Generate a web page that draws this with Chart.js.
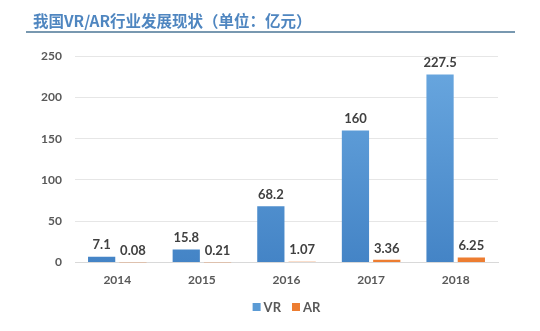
<!DOCTYPE html>
<html>
<head>
<meta charset="utf-8">
<script src="https://cdn.jsdelivr.net/npm/chart.js@4.4.1/dist/chart.umd.min.js"></script>
<style>
  html, body { margin: 0; padding: 0; background: #ffffff; }
  #wrap { width: 540px; height: 331px; position: relative; }
</style>
</head>
<body>
<div id="wrap"><canvas id="c" width="540" height="331"></canvas></div>
<script>
// 我国VR/AR行业发展规模（亿元）
const titleText = '我国VR/AR行业发展现状（单位：亿元）';
const years = ['2014', '2015', '2016', '2017', '2018'];
const vrValues = [7.1, 15.8, 68.2, 160, 227.5];
const arValues = [0.08, 0.21, 1.07, 3.36, 6.25];
const vrLabels = ['7.1', '15.8', '68.2', '160', '227.5'];
const arLabels = ['0.08', '0.21', '1.07', '3.36', '6.25'];
const yTicks = [0, 50, 100, 150, 200, 250];
const seriesColors = ['#5b9bd5', '#ed7d31'];

const latinFont = 'Lato, "Noto Sans", sans-serif';
const cjkFont = '"Noto Sans CJK SC", "Noto Sans", sans-serif';

// 标题与下划线
const headerPlugin = {
  id: 'header',
  afterDraw(chart) {
    const ctx = chart.ctx;
    ctx.save();
    ctx.font = 'bold 15.5px ' + cjkFont;
    ctx.fillStyle = '#4f86c0';
    ctx.textBaseline = 'middle';
    ctx.textAlign = 'left';
    ctx.fillText(titleText, 33, 21);
    ctx.strokeStyle = '#7898b0';
    ctx.lineWidth = 2;
    ctx.beginPath();
    ctx.moveTo(26, 32);
    ctx.lineTo(515, 32);
    ctx.stroke();
    ctx.restore();
  }
};

// 柱顶数值标签
const valueLabelPlugin = {
  id: 'valueLabels',
  afterDatasetsDraw(chart) {
    const ctx = chart.ctx;
    ctx.save();
    ctx.font = 'bold 13px ' + latinFont;
    ctx.fillStyle = '#404040';
    ctx.textAlign = 'center';
    ctx.textBaseline = 'bottom';
    const labelSets = [vrLabels, arLabels];
    chart.data.datasets.forEach((ds, di) => {
      chart.getDatasetMeta(di).data.forEach((bar, i) => {
        ctx.fillText(labelSets[di][i], bar.x, bar.y - 5);
      });
    });
    ctx.restore();
  }
};

// 底部图例（紧凑排列）
const legendPlugin = {
  id: 'compactLegend',
  afterDraw(chart) {
    const ctx = chart.ctx;
    ctx.save();
    ctx.font = 'bold 13px ' + latinFont;
    ctx.textBaseline = 'middle';
    ctx.textAlign = 'left';
    const box = 8, gapBox = 3, gapItem = 11, y = 307;
    const items = chart.data.datasets.map((ds, i) => ({ text: ds.label, color: seriesColors[i] }));
    let total = 0;
    items.forEach((it, i) => {
      it.w = box + gapBox + ctx.measureText(it.text).width;
      total += it.w + (i ? gapItem : 0);
    });
    let x = (chart.chartArea.left + chart.chartArea.right) / 2 - total / 2;
    items.forEach(it => {
      ctx.fillStyle = it.color;
      ctx.fillRect(x, y - box / 2, box, box);
      ctx.fillStyle = '#595959';
      ctx.fillText(it.text, x + box + gapBox, y + 0.5);
      x += it.w + gapItem;
    });
    ctx.restore();
  }
};

function vrFill(context) {
  const chart = context.chart;
  const area = chart.chartArea;
  if (!area) return seriesColors[0];
  const g = chart.ctx.createLinearGradient(0, area.top, 0, area.bottom);
  g.addColorStop(0, '#6aa8e0');
  g.addColorStop(1, '#4484c6');
  return g;
}

new Chart(document.getElementById('c'), {
  type: 'bar',
  data: {
    labels: years,
    datasets: [
      { label: 'VR', data: vrValues, backgroundColor: vrFill, borderWidth: 0 },
      { label: 'AR', data: arValues, backgroundColor: seriesColors[1], borderWidth: 0 }
    ]
  },
  options: {
    responsive: false,
    animation: false,
    devicePixelRatio: 1,
    layout: { padding: { top: 56, right: 42, bottom: 34, left: 0 } },
    datasets: { bar: { categoryPercentage: 0.74, barPercentage: 0.87 } },
    scales: {
      x: {
        grid: { display: false, drawTicks: false },
        border: { display: true, color: '#d9d9d9', width: 1 },
        ticks: { color: '#595959', font: { family: latinFont, size: 12, weight: 'bold' }, padding: 10 }
      },
      y: {
        min: 0, max: 250,
        afterBuildTicks(scale) { scale.ticks = yTicks.map(v => ({ value: v })); },
        afterFit(scale) { scale.width = 75; },
        grid: { color: '#e6e6e6', drawTicks: false },
        border: { display: false },
        ticks: { color: '#595959', font: { family: latinFont, size: 12, weight: 'bold' }, padding: 13 }
      }
    },
    plugins: {
      legend: { display: false },
      tooltip: { enabled: false }
    }
  },
  plugins: [headerPlugin, valueLabelPlugin, legendPlugin]
});
</script>
</body>
</html>
